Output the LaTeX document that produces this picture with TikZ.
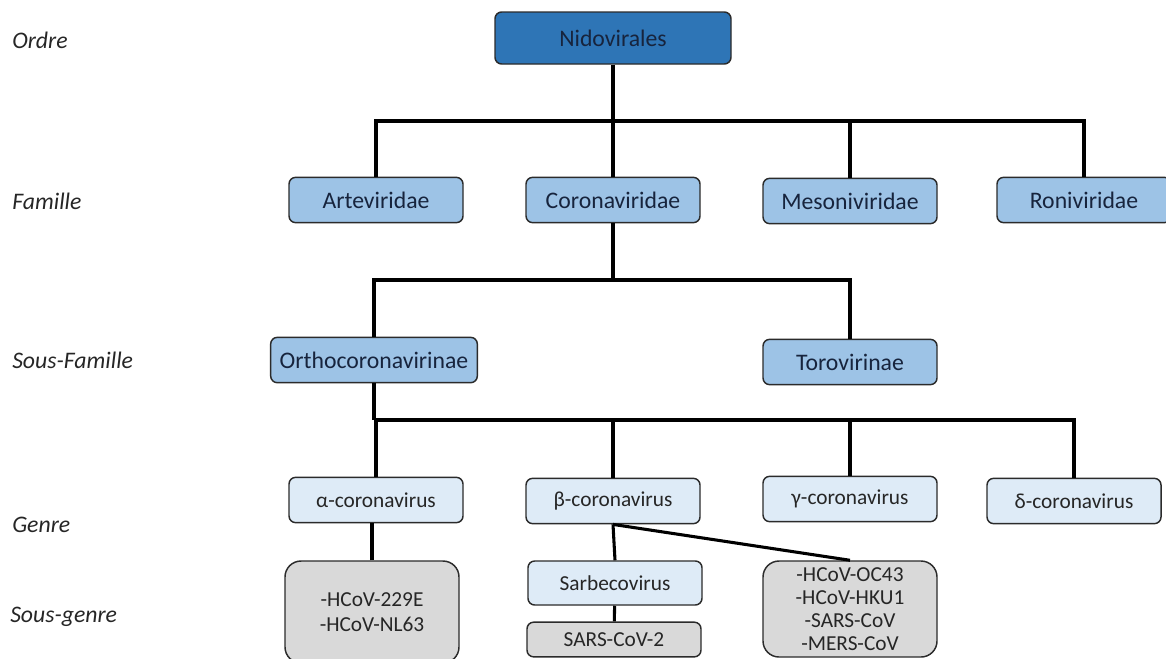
\documentclass[tikz,border=0pt]{standalone}
\usepackage{fontspec}
\setmainfont{Carlito}
\usetikzlibrary{positioning}
\definecolor{nidoblue}{HTML}{2E75B6}
\definecolor{famblue}{HTML}{9DC3E6}
\definecolor{genblue}{HTML}{DEEBF7}
\definecolor{spgray}{HTML}{D9D9D9}
\definecolor{boxline}{HTML}{2B2B2B}
\definecolor{navytext}{HTML}{17243D}

\begin{document}
\begin{tikzpicture}[x=0.75pt,y=-0.75pt,font=\fontsize{17.8}{21}\selectfont]
\tikzstyle{box}=[rectangle,draw=boxline,line width=1.1pt,rounded corners=5pt,align=center,minimum width=130.5pt,minimum height=34pt,inner sep=1pt]
\tikzstyle{fam}=[box,fill=famblue,text=navytext]
\tikzstyle{gen}=[box,fill=genblue,text=black!85,font=\fontsize{16}{18}\selectfont]
\tikzstyle{grp}=[box,fill=spgray,text=black!85,rounded corners=12pt,font=\fontsize{16}{17.2}\selectfont]
\tikzstyle{link}=[line width=2.3pt,black]
\tikzstyle{rank}=[anchor=west,inner sep=0pt,text=black!85,font=\fontsize{17.8}{21}\selectfont\itshape]
\useasboundingbox (0,0) rectangle (1166,658);
\clip (0,0) rectangle (1166,658);
% rangs
\node[rank] (rordre) at (12,40) {Ordre};
\node[rank] (rfam) at (12,201) {Famille};
\node[rank] (rsfam) at (12,360) {Sous-Famille};
\node[rank] (rgenre) at (12,525) {Genre};
\node[rank] (rsgenre) at (10,617) {Sous-genre};
% ordre et familles
\node[box,fill=nidoblue,text=navytext,minimum width=177pt,minimum height=39pt] (nido) at (613,38) {Nidovirales};
\node[fam] (arte) at (376,200) {Arteviridae};
\node[fam] (corona) at (613,200) {Coronaviridae};
\node[fam] (meso) at (850,201) {Mesoniviridae};
\node[fam] (roni) at (1084,200) {Roniviridae};
% sous-familles
\node[fam,minimum width=155pt] (ortho) at (374,360) {Orthocoronavirinae};
\node[fam] (toro) at (850,362) {Torovirinae};
% genres
\node[gen] (alpha) at (376,500) {α-coronavirus};
\node[gen] (beta) at (613,501) {β-coronavirus};
\node[gen] (gamma) at (850,499) {γ-coronavirus};
\node[gen] (delta) at (1074,501) {δ-coronavirus};
% sous-genres (coupés en bas)
\node[grp,minimum height=76.5pt,font=\fontsize{16}{18.3}\selectfont] (agroup) at (372,612) {-HCoV-229E\\-HCoV-NL63};
\node[gen,minimum height=33pt] (sarbe) at (615,583) {Sarbecovirus};
\node[grp,rounded corners=5pt,minimum height=26pt] (sars) at (614,639.5) {SARS-CoV-2};
\node[grp,minimum height=72pt] (bgroup) at (850,609) {-HCoV-OC43\\-HCoV-HKU1\\-SARS-CoV\\-MERS-CoV};
% liaisons
\coordinate (famrail) at (613,121);
\coordinate (subrail) at (613,280);
\coordinate (genrail) at (374,420);
\draw[link] (nido) -- (famrail);
\draw[link] (famrail) -| (arte.north);
\draw[link] (famrail) -- (corona);
\draw[link] (famrail) -| (meso.north);
\draw[link] (famrail) -| (roni.north);
\draw[link] (corona) -- (subrail);
\draw[link] (subrail) -| (ortho.north);
\draw[link] (subrail) -| (toro.north);
\draw[link] (ortho) -- (genrail);
\draw[link] (genrail) -| (alpha.north);
\draw[link] (genrail) -| (beta.north);
\draw[link] (genrail) -| (gamma.north);
\draw[link] (genrail) -| (delta.north);
\draw[link] (agroup.north) -- (agroup.north |- alpha.south);
\draw[link] (beta.south) -- (sarbe.north);
\draw[link] (sarbe) -- (sars);
\draw[link] (beta.south) -- (bgroup.north);
\end{tikzpicture}
\end{document}
